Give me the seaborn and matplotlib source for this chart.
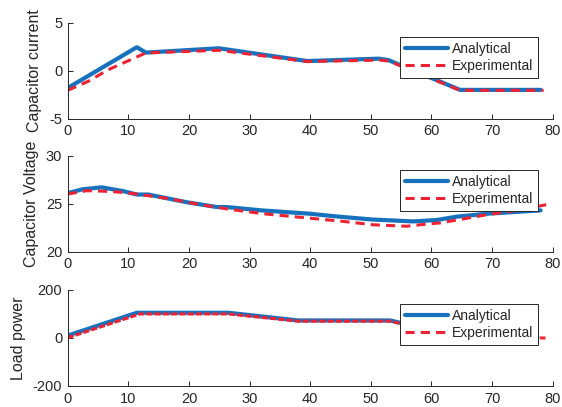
import matplotlib
matplotlib.use("Agg")
import matplotlib.pyplot as plt
from matplotlib.lines import Line2D
import seaborn as sns

# capacitor current
t_cur_ana = [0, 11.4, 12.9, 24.9, 39.5, 51.3, 52.9, 64.7, 78.0]
cur_ana = [-1.8, 2.44, 1.88, 2.33, 1.0, 1.25, 1.1, -2.0, -2.0]
t_cur_exp = [0, 3.4, 6.7, 9.7, 12.9, 25.0, 39.5, 51.5, 53.0, 64.7, 78.5]
cur_exp = [-2.05, -1.1, 0.1, 0.95, 1.85, 2.12, 0.95, 1.1, 1.0, -2.05, -2.05]

# capacitor voltage
t_volt_ana = [0, 2.5, 5.6, 9.2, 11.4, 13.3, 19.6, 24.6, 26.2, 32, 40.0, 43.8,
              50.2, 57.0, 60.9, 64.2, 69.1, 78.0]
volt_ana = [26.1, 26.5, 26.7, 26.3, 25.95, 25.95, 25.15, 24.65, 24.65, 24.3,
            23.95, 23.7, 23.35, 23.15, 23.3, 23.65, 23.95, 24.3]
t_volt_exp = [0, 3.1, 5.9, 8.6, 11.4, 16.9, 21.8, 26.8, 32.3, 39.7, 45.5, 50.4,
              55.9, 58.1, 61.4, 64.7, 69.1, 74.1, 79.0]
volt_exp = [26.0, 26.35, 26.3, 26.2, 26.0, 25.5, 24.9, 24.4, 23.95, 23.5, 23.15,
            22.8, 22.65, 22.8, 23.0, 23.35, 23.85, 24.3, 24.9]

# load power
t_pow_ana = [0, 11.4, 26.5, 38.0, 53.2, 65.0, 77.5]
pow_ana = [10, 105, 105, 73, 73, 2, 2]
t_pow_exp = [0, 11.9, 26.5, 38.0, 53.2, 65.0, 78.8]
pow_exp = [1, 100, 100, 70, 70, 0, 0]

ylabels = ["Capacitor current", "Capacitor Voltage", "Load power"]
ylims = [(-5, 5), (20, 30), (-200, 200)]
yticks = [[-5, 0, 5], [20, 25, 30], [-200, 0, 200]]

blue = "#1672BD"
red = "#EE2233"
grey = "#262626"

sns.set_style("ticks")
plt.rcParams["font.family"] = ["Liberation Sans", "DejaVu Sans"]
plt.rcParams["axes.unicode_minus"] = False

fig = plt.figure(figsize=(5.62, 4.07), dpi=100)
bottoms = [0.7084, 0.3816, 0.0516]
axes = [fig.add_axes([0.1205, b, 0.863, 0.236]) for b in bottoms]

series = [
    (t_cur_ana, cur_ana, t_cur_exp, cur_exp),
    (t_volt_ana, volt_ana, t_volt_exp, volt_exp),
    (t_pow_ana, pow_ana, t_pow_exp, pow_exp),
]

for i, ax in enumerate(axes):
    ta, ya, te, ye = series[i]
    sns.lineplot(x=ta, y=ya, ax=ax, color=blue, linewidth=3.0, sort=False)
    dash = (3, 2) if i < 2 else (2, 0.7)
    sns.lineplot(x=te, y=ye, ax=ax, color=red, linewidth=2.2, sort=False,
                 linestyle="--", dashes=False)
    ax.lines[-1].set_dashes(dash)

    ax.set_xlim(0, 80)
    ax.set_ylim(*ylims[i])
    ax.set_xticks(range(0, 81, 10))
    ax.set_yticks(yticks[i])
    ax.set_ylabel(ylabels[i], fontsize=11.5, color=grey, labelpad=5)
    ax.tick_params(direction="in", length=3.5, width=0.7, colors=grey,
                   labelsize=10.5, pad=4)
    sns.despine(ax=ax)
    for s in ["left", "bottom"]:
        ax.spines[s].set_color(grey)
        ax.spines[s].set_linewidth(0.7)

    handles = [Line2D([], [], color=blue, linewidth=3.0),
               Line2D([], [], color=red, linewidth=2.2, linestyle=(0, (3, 2)))]
    leg = ax.legend(handles, ["Analytical", "Experimental"], loc="upper right",
                    bbox_to_anchor=(0.970, 0.854), borderaxespad=0,
                    fontsize=10, handlelength=3.1, handletextpad=0.3,
                    borderpad=0.35, labelspacing=0.25, fancybox=False,
                    framealpha=1, edgecolor=grey)
    leg.get_frame().set_linewidth(0.7)
    for txt in leg.get_texts():
        txt.set_color(grey)

plt.savefig("out.png", dpi=100)
